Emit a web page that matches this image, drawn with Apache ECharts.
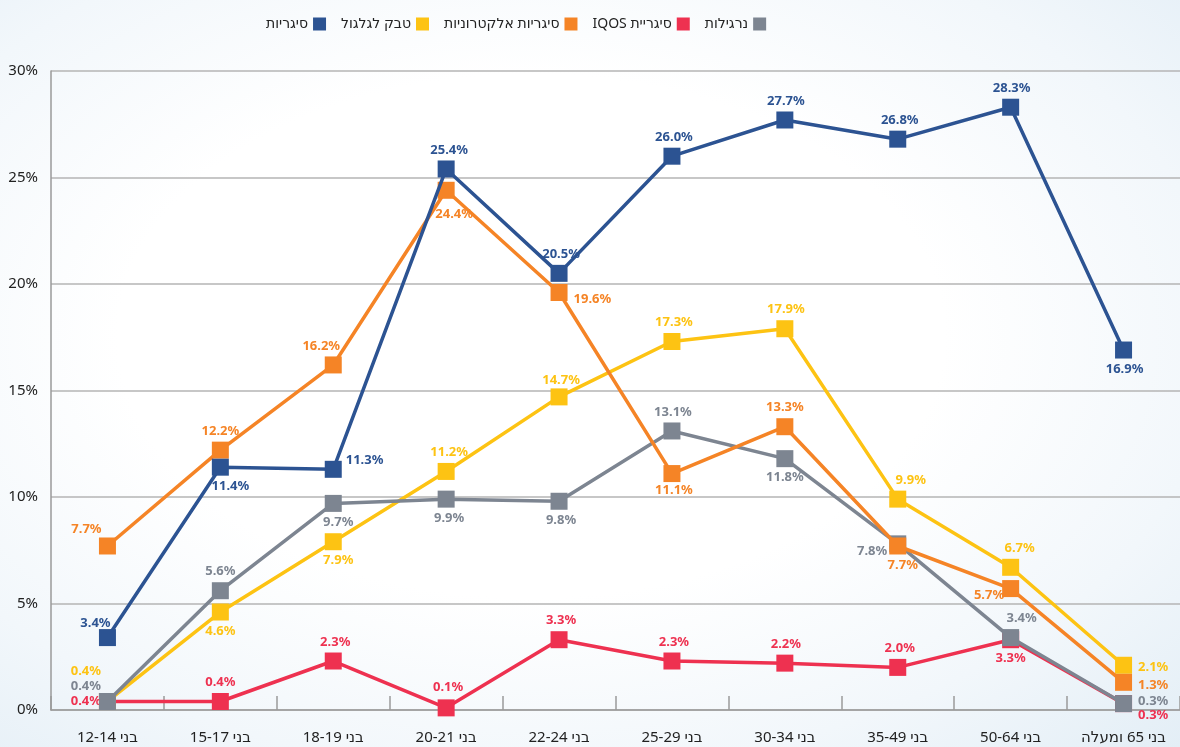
<!DOCTYPE html>
<html>
<head>
<meta charset="utf-8">
<script src="https://cdn.jsdelivr.net/npm/echarts@6/dist/echarts.min.js"></script>
<style>
  html, body { margin: 0; padding: 0; }
  body {
    width: 1180px; height: 747px; overflow: hidden;
    background: radial-gradient(ellipse at 45% 45%, #ffffff 45%, #f2f7fb 75%, #e3eef6 100%);
  }
  #chart { width: 1180px; height: 747px; }
</style>
</head>
<body>
<div id="chart" dir="rtl"></div>
<script>
// קבוצות גיל
const categories = ['בני 12-14', 'בני 15-17', 'בני 18-19', 'בני 20-21', 'בני 22-24', 'בני 25-29', 'בני 30-34', 'בני 35-49', 'בני 50-64', 'בני 65 ומעלה']

// ערכים באחוזים
const cigarettes = [3.4, 11.4, 11.3, 25.4, 20.5, 26.0, 27.7, 26.8, 28.3, 16.9]
const rollTobacco = [0.4, 4.6, 7.9, 11.2, 14.7, 17.3, 17.9, 9.9, 6.7, 2.1]
const eCigarettes = [7.7, 12.2, 16.2, 24.4, 19.6, 11.1, 13.3, 7.7, 5.7, 1.3]
const iqos = [0.4, 0.4, 2.3, 0.1, 3.3, 2.3, 2.2, 2.0, 3.3, 0.3]
const hookah = [0.4, 5.6, 9.7, 9.9, 9.8, 13.1, 11.8, 7.8, 3.4, 0.3]

const yTicks = [0, 5, 10, 15, 20, 25, 30]

// מיקום תוויות לכל נקודה: [position, offsetX, offsetY]
const cigLabels = [['top', -12, 5], ['bottom', 10, 0], ['right', 0, -9], ['top', 3, 0], ['top', 2, 0], ['top', 2, 0], ['top', 1, 0], ['top', 2, 0], ['top', 1, 0], ['bottom', 1, 0]]
const rollLabels = [['left', 6, -30], ['bottom', 0, 0], ['bottom', 5, 0], ['top', 3, 0], ['top', 2, 2], ['top', 2, 0], ['top', 1, 0], ['top', 13, 0], ['top', 9, 0], ['right', 2, 2]]
const eCigLabels = [['top', -21, 2], ['top', 0, 0], ['top', -12, 0], ['bottom', 8, 5], ['right', 2, 7], ['bottom', 2, -2], ['top', 0, 0], ['bottom', 5, 0], ['left', 6, 7], ['right', 2, 3]]
const iqosLabels = [['left', 6, 0], ['top', 0, 0], ['top', 2, 0], ['top', 2, -2], ['top', 2, 0], ['top', 2, 0], ['top', 1, 0], ['top', 2, 0], ['bottom', 0, 0], ['right', 2, 12]]
const hookahLabels = [['left', 6, -15], ['top', 0, 0], ['bottom', 5, 0], ['bottom', 3, 0], ['bottom', 2, 0], ['top', 1, 0], ['bottom', 0, 0], ['left', 2, 7], ['top', 11, 0], ['right', 2, -2]]

const font = "'Noto Sans', 'DejaVu Sans', sans-serif"

function makeSeries(name, values, labels, color, z) {
  return {
    name,
    type: 'line',
    z,
    data: values.map((v, i) => ({
      value: v,
      label: {
        position: labels[i][0],
        offset: [labels[i][1], labels[i][2]]
      }
    })),
    symbol: 'rect',
    symbolSize: 17,
    lineStyle: { color, width: 3.5 },
    itemStyle: { color },
    label: {
      show: true,
      distance: 4,
      color,
      fontFamily: font,
      fontWeight: 'bold',
      fontSize: 13,
      formatter: p => p.value.toFixed(1) + '%'
    },
    emphasis: { disabled: true }
  }
}

const myChart = echarts.init(document.getElementById('chart'))
const option = {
  animation: false,
  color: ['#2c5392', '#fdc313', '#f58426', '#ee3150', '#7d8591'],
  legend: {
    top: 12,
    left: 261,
    align: 'right',
    icon: 'rect',
    itemWidth: 13,
    itemHeight: 13,
    itemGap: 15,
    textStyle: { fontSize: 14, color: '#222', fontFamily: font },
    data: ['סיגריות', 'טבק לגלגול', 'סיגריות אלקטרוניות', 'סיגריית IQOS', 'נרגילות']
  },
  grid: { left: 51, top: 71, width: 1133, height: 639 },
  xAxis: {
    type: 'category',
    data: categories,
    boundaryGap: true,
    axisLine: { lineStyle: { color: '#9a9a9a', width: 1.5 } },
    axisTick: { show: true, inside: true, length: 14, lineStyle: { color: '#9a9a9a', width: 1.5 } },
    axisLabel: { color: '#222', fontSize: 15, fontFamily: font, margin: 20 }
  },
  yAxis: {
    type: 'value',
    min: yTicks[0],
    max: yTicks[yTicks.length - 1],
    interval: 5,
    axisLine: { show: true, lineStyle: { color: '#9a9a9a', width: 1.5 } },
    axisTick: { show: false },
    axisLabel: { color: '#222', fontSize: 15, fontFamily: font, margin: 13, formatter: '{value}%' },
    splitLine: { lineStyle: { color: '#b4b4b4', width: 1.5 } }
  },
  series: [
    makeSeries('סיגריית IQOS', iqos, iqosLabels, '#ee3150', 2),
    makeSeries('טבק לגלגול', rollTobacco, rollLabels, '#fdc313', 3),
    makeSeries('נרגילות', hookah, hookahLabels, '#7d8591', 4),
    makeSeries('סיגריות אלקטרוניות', eCigarettes, eCigLabels, '#f58426', 5),
    makeSeries('סיגריות', cigarettes, cigLabels, '#2c5392', 6)
  ]
}
myChart.setOption(option)
</script>
</body>
</html>
